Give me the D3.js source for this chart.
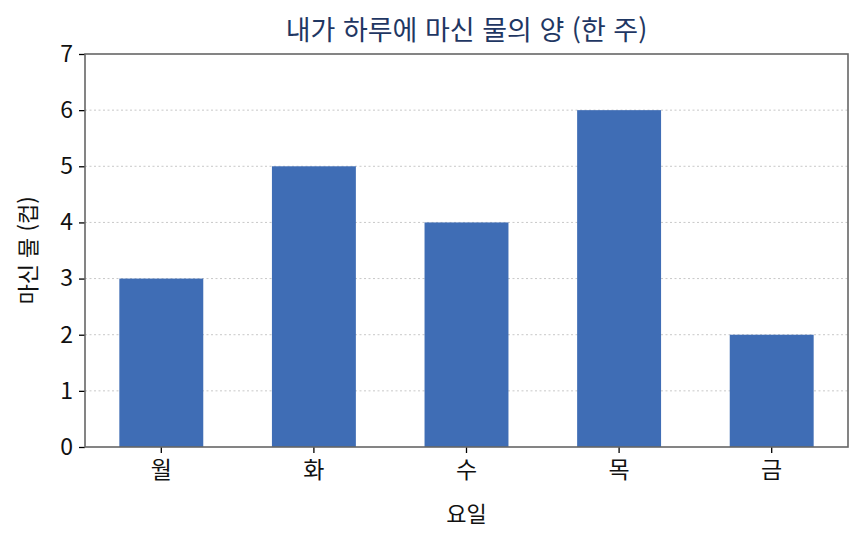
<!DOCTYPE html>
<html lang="ko">
<head>
    <meta charset="utf-8">
    <title></title>
    <script src="https://d3js.org/d3.v7.min.js"></script>
    <style type="text/css">
        body{
            margin: 0;
            background: #fff;
        }
        text{
            font-family: "Noto Sans CJK KR", sans-serif;
        }
    </style>
</head>
<body>
    <div id="chart"></div>

    <script type="text/javascript">

        const days = ['월', '화', '수', '목', '금'];
        const cups = [3, 5, 4, 6, 2];
        const yTicks = [0, 1, 2, 3, 4, 5, 6, 7];

        const width = 865, height = 544;
        const margin = {top: 54, right: 17, bottom: 97, left: 85};
        const innerW = width - margin.left - margin.right;
        const innerH = height - margin.top - margin.bottom;

        const svg = d3.select("#chart")
            .append("svg")
            .attr("width", width)
            .attr("height", height);

        const g = svg.append("g")
            .attr("transform", `translate(${margin.left},${margin.top})`);

        const x = d3.scaleBand()
            .domain(days)
            .range([0, innerW])
            .paddingInner(0.45)
            .paddingOuter(0.225);

        const y = d3.scaleLinear()
            .domain([0, 7])
            .range([innerH, 0]);

        // grid
        g.selectAll(".grid")
            .data(yTicks.filter(d => d > 0 && d < 7))
            .enter()
            .append("line")
            .attr("x1", 0)
            .attr("x2", innerW)
            .attr("y1", d => y(d))
            .attr("y2", d => y(d))
            .attr("stroke", "#c8c8c8")
            .attr("stroke-width", 1)
            .attr("stroke-dasharray", "2,2.5");

        g.selectAll(".bar")
            .data(cups)
            .enter()
            .append("rect")
            .attr("x", (d, i) => x(days[i]))
            .attr("y", d => y(d))
            .attr("width", x.bandwidth())
            .attr("height", d => innerH - y(d))
            .style("fill", "#3f6db5");

        // axes
        const yAxis = g.append("g")
            .call(d3.axisLeft(y).tickValues(yTicks).tickFormat(d3.format("d")).tickSize(6).tickPadding(6));
        const xAxis = g.append("g")
            .attr("transform", `translate(0,${innerH})`)
            .call(d3.axisBottom(x).tickSize(6).tickPadding(9));

        [yAxis, xAxis].forEach(a => {
            a.select(".domain").remove();
            a.selectAll(".tick line").attr("stroke", "#000").attr("stroke-width", 1.3);
            a.selectAll(".tick text")
                .attr("fill", "#111")
                .style("font-size", "23px")
                .style("font-family", '"Noto Sans CJK KR", sans-serif');
        });

        // frame
        g.append("rect")
            .attr("width", innerW)
            .attr("height", innerH)
            .attr("fill", "none")
            .attr("stroke", "#666")
            .attr("stroke-width", 1.6);

        svg.append("text")
            .attr("x", margin.left + innerW / 2)
            .attr("y", 40)
            .attr("text-anchor", "middle")
            .attr("fill", "#1f3763")
            .style("font-size", "27px")
            .text("내가 하루에 마신 물의 양 (한 주)");

        svg.append("text")
            .attr("x", margin.left + innerW / 2)
            .attr("y", 522)
            .attr("text-anchor", "middle")
            .attr("fill", "#111")
            .style("font-size", "22px")
            .text("요일");

        svg.append("text")
            .attr("transform", `translate(36,${margin.top + innerH / 2}) rotate(-90)`)
            .attr("text-anchor", "middle")
            .attr("fill", "#111")
            .style("font-size", "22px")
            .text("마신 물 (컵)");
    </script>
</body>
</html>
